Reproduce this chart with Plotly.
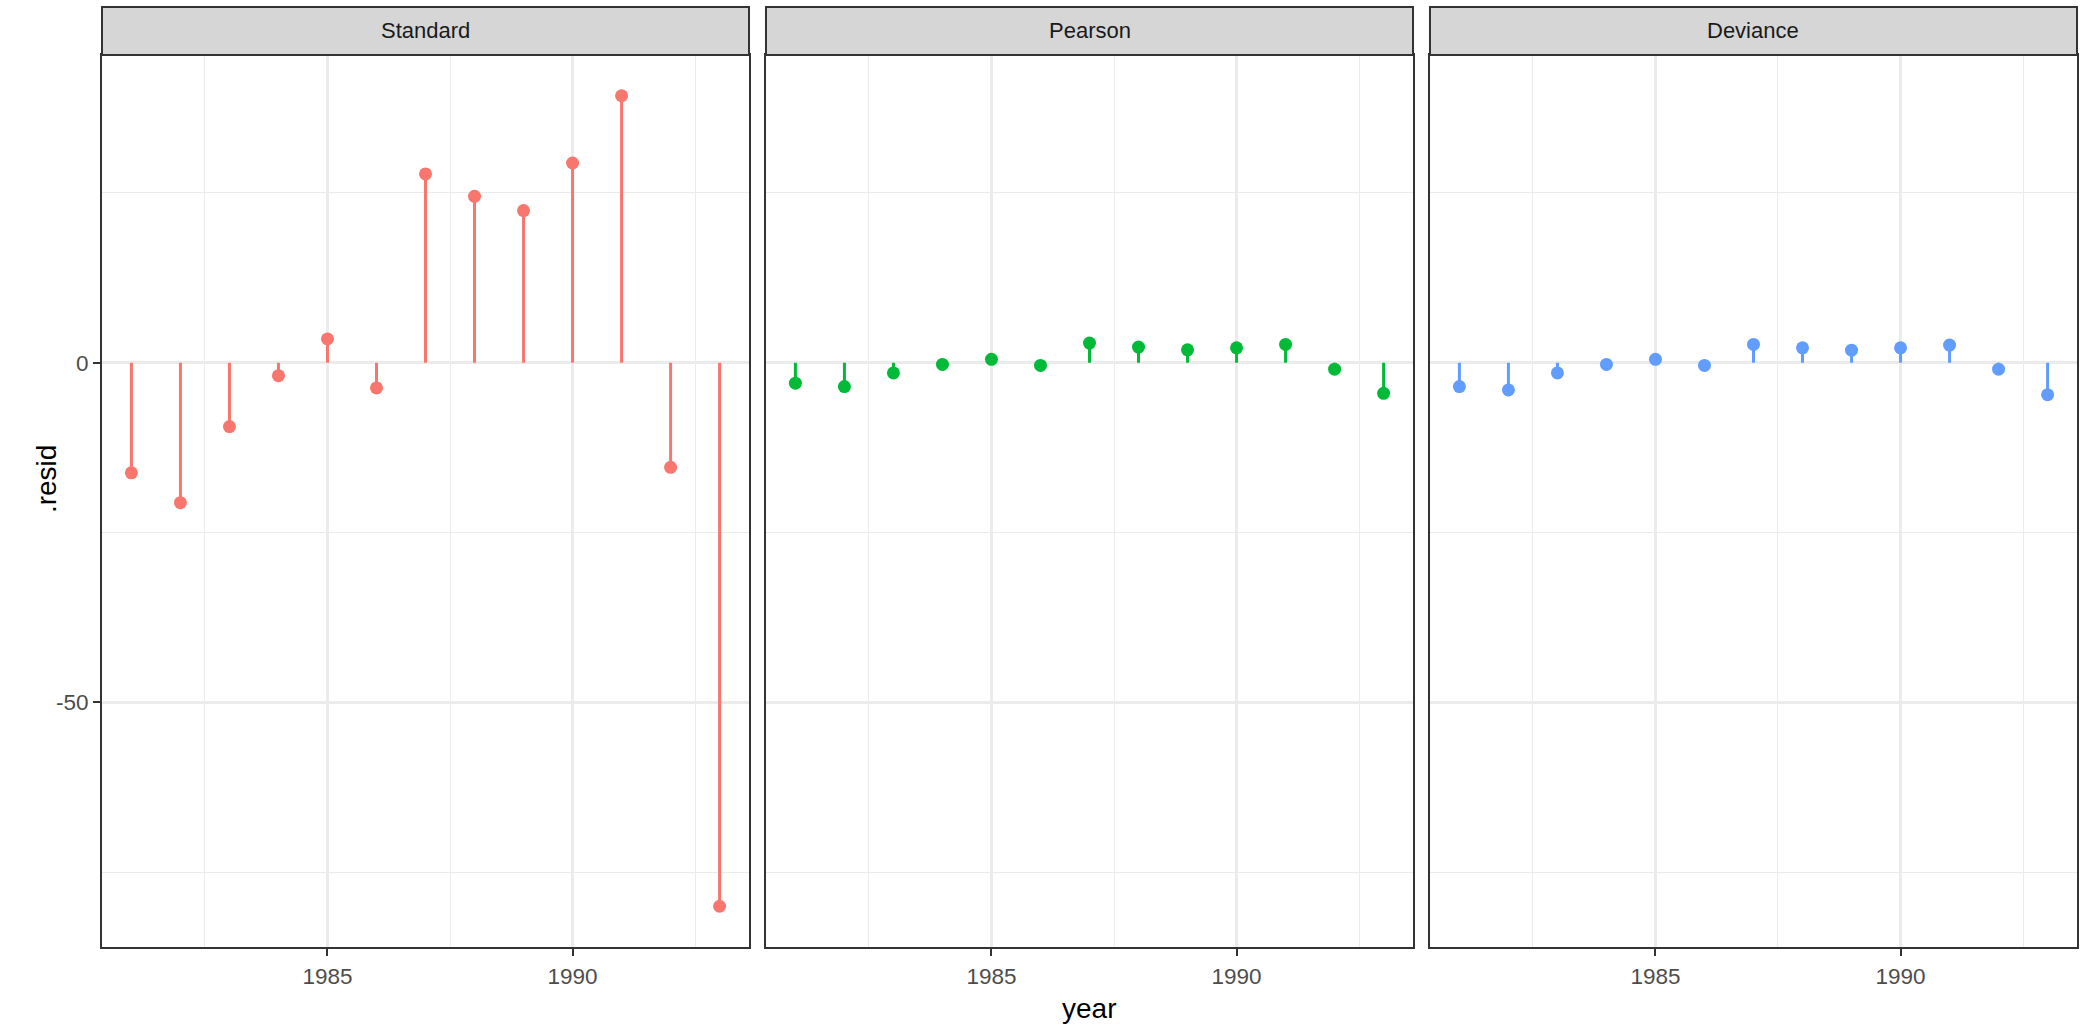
import plotly.graph_objects as go

# Residuals of the fitted model, by year and residual type
years = [1981, 1982, 1983, 1984, 1985, 1986, 1987, 1988, 1989, 1990, 1991, 1992, 1993]
standard = [-16.2, -20.6, -9.4, -1.9, 3.5, -3.7, 27.8, 24.5, 22.4, 29.4, 39.3, -15.4, -80.0]
pearson = [-3.0, -3.5, -1.5, -0.25, 0.5, -0.4, 2.9, 2.3, 1.9, 2.2, 2.7, -0.95, -4.5]
deviance = [-3.5, -4.0, -1.5, -0.25, 0.5, -0.4, 2.7, 2.2, 1.85, 2.2, 2.6, -0.95, -4.7]

panels = ["Standard", "Pearson", "Deviance"]
series = [standard, pearson, deviance]
colors = ["#F8766D", "#00BA38", "#619CFF"]

x_ticks = [1985, 1990]
y_ticks = [-50, 0]
y_ticklabels = ["-50", "0"]

FONT = "Liberation Sans, Arial, sans-serif"
W, H = 2080, 1030
ml, mr, mt, mb = 102, 1, 55, 83
gap = 17
plot_w = W - ml - mr
plot_h = H - mt - mb
panel_w = (plot_w - 2 * gap) / 3
strip_h = 48 / plot_h

fig = go.Figure()

for i, (name, vals, col) in enumerate(zip(panels, series, colors)):
    xa = "x" if i == 0 else f"x{i+1}"
    ya = "y" if i == 0 else f"y{i+1}"
    # stems from zero to each residual
    sx, sy = [], []
    for yr, v in zip(years, vals):
        sx += [yr, yr, None]
        sy += [0, v, None]
    fig.add_trace(go.Scatter(x=sx, y=sy, mode="lines", xaxis=xa, yaxis=ya,
                             line=dict(color=col, width=3), showlegend=False,
                             hoverinfo="skip"))
    fig.add_trace(go.Scatter(x=years, y=vals, mode="markers", xaxis=xa, yaxis=ya,
                             marker=dict(color=col, size=13), showlegend=False))

    d0 = (i * (panel_w + gap)) / plot_w
    d1 = (i * (panel_w + gap) + panel_w) / plot_w
    axis_common = dict(
        showline=True, mirror=True, linecolor="#333333", linewidth=2,
        showgrid=True, gridcolor="#EBEBEB", gridwidth=2.6,
        zeroline=False, ticklen=7, tickwidth=2, tickcolor="#333333",
        tickfont=dict(family=FONT, size=22.5, color="#4D4D4D"),
    )
    xkey = "xaxis" if i == 0 else f"xaxis{i+1}"
    ykey = "yaxis" if i == 0 else f"yaxis{i+1}"
    fig.layout[xkey] = dict(
        axis_common, domain=[d0, d1], anchor=ya, range=[1980.4, 1993.6],
        tickmode="array", tickvals=x_ticks, ticks="outside", ticklabelstandoff=1,
        minor=dict(showgrid=True, gridcolor="#EBEBEB", gridwidth=1.4,
                   tickvals=[1982.5, 1987.5, 1992.5], ticks=""),
    )
    fig.layout[ykey] = dict(
        axis_common, domain=[0, 1], anchor=xa, range=[-86.0, 45.3],
        tickmode="array", tickvals=y_ticks, ticktext=y_ticklabels,
        showticklabels=(i == 0), ticks="outside" if i == 0 else "",
        ticklabelstandoff=0,
        minor=dict(showgrid=True, gridcolor="#EBEBEB", gridwidth=1.4,
                   tickvals=[-75, -25, 25], ticks=""),
    )
    # facet strip
    fig.add_shape(type="rect", xref=f"{xa} domain", yref=f"{ya} domain",
                  x0=0, x1=1, y0=1, y1=1 + strip_h,
                  fillcolor="#D6D6D6", line=dict(color="#333333", width=2),
                  layer="above")
    fig.add_annotation(text=name, xref=f"{xa} domain", yref=f"{ya} domain",
                       x=0.5, y=1 + strip_h / 2, xanchor="center", yanchor="middle",
                       showarrow=False,
                       font=dict(family=FONT, size=22, color="#1A1A1A"))

# axis titles
fig.add_annotation(text="year", xref="paper", yref="paper",
                   x=(1090 - ml) / plot_w, y=-(1008 - (H - mb)) / plot_h,
                   xanchor="center", yanchor="middle", showarrow=False,
                   font=dict(family=FONT, size=28, color="#000000"))
fig.add_annotation(text=".resid", xref="paper", yref="paper",
                   x=(46 - ml) / plot_w, y=(H - mb - 479) / plot_h,
                   xanchor="center", yanchor="middle", textangle=-90, showarrow=False,
                   font=dict(family=FONT, size=28, color="#000000"))

fig.update_layout(
    width=W, height=H,
    margin=dict(l=ml, r=mr, t=mt, b=mb),
    paper_bgcolor="white", plot_bgcolor="white",
    showlegend=False,
)

fig.write_html("out.html")
